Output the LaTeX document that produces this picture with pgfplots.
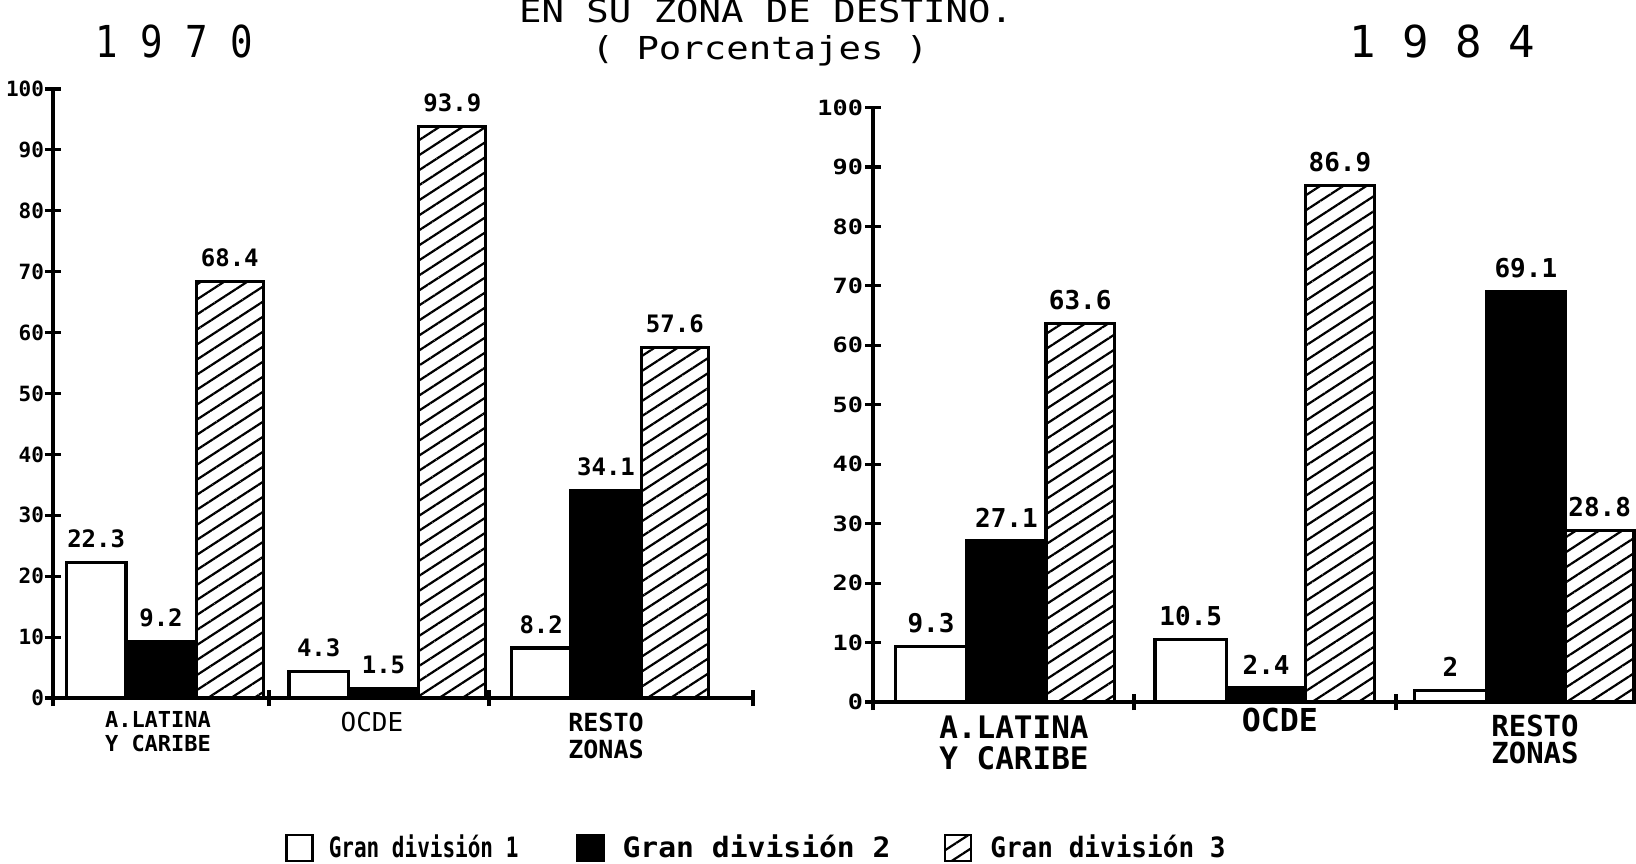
\documentclass[border=0pt]{standalone}
\usepackage{fontspec}
\usepackage{pgfplots}
\pgfplotsset{compat=1.18}
\usetikzlibrary{patterns.meta}
\setmainfont{DejaVu Sans Mono}
\newfontfamily\fN{DejaVu Sans Mono}
\newfontfamily\fT{DejaVu Sans Mono}[FakeStretch=1.18]
\newfontfamily\fW{DejaVu Sans Mono}[FakeStretch=1.2]
\newfontfamily\fC{DejaVu Sans Mono}[FakeStretch=0.85]
\newfontfamily\fLa{DejaVu Sans Mono}[FakeStretch=0.75]
\newfontfamily\fLb{DejaVu Sans Mono}[FakeStretch=1.06]
\newfontfamily\fLc{DejaVu Sans Mono}[FakeStretch=0.93]
\pgfplotsset{
  hatch/.style={pattern={Lines[angle=33,distance=6.3pt,line width=1.1pt]}, pattern color=black},
  base/.style={
    scale only axis,
    axis x line=bottom, axis y line=left,
    axis line style={-, line width=1.8pt},
    ymin=0, ymax=100, ytick={0,10,...,100},
    xticklabels={},
    tick align=center, major tick length=8pt,
    tick style={black, line width=1.6pt},
    clip=false,
    /pgf/number format/assume math mode=true,
    point meta=explicit symbolic,
    nodes near coords,
    every node near coord/.append style={anchor=south, inner sep=0pt},
  },
}
\begin{document}
\begin{tikzpicture}
\useasboundingbox (0,0) rectangle (818pt,431.5pt);

\node[anchor=base, inner sep=0pt, font=\fT\fontsize{15.8}{18}\selectfont] at (383pt,420pt) {EN SU ZONA DE DESTINO.};
\node[anchor=base, inner sep=0pt, font=\fT\fontsize{15.8}{18}\selectfont] at (380pt,401.75pt) {( Porcentajes )};
\node[anchor=base, inner sep=0pt, font=\fC\fontsize{22}{24}\selectfont] at (87pt,402.5pt) {1 9 7 0};
\node[anchor=base, inner sep=0pt, font=\fN\fontsize{22}{24}\selectfont] at (721pt,402.5pt) {1 9 8 4};

% ---------------- 1970 ----------------
\begin{axis}[base,
  at={(26.5pt,82.5pt)}, anchor=south west,
  width=350pt, height=304.5pt,
  xmin=-0.4854, xmax=2.6607,
  xtick={-0.4854,0.4854,1.4742,2.6607},
  yticklabel style={font=\fN\bfseries\fontsize{10.5}{12}\selectfont, xshift=3pt},
  every node near coord/.append style={font=\fN\bfseries\fontsize{12}{14}\selectfont, yshift=6.5pt},
  legend columns=3,
  legend cell align=left,
  legend image code/.code={\draw[#1, line width=1.4pt] (0pt,-6.5pt) rectangle (13pt,6.5pt);},
  legend style={draw=none, fill=none, at={(0.3314,-0.2463)}, anchor=west,
    inner sep=0pt, outer sep=0pt, column sep=0pt, row sep=0pt, nodes={inner sep=0pt}},
]
\addplot[ybar, bar width=0.2666, bar shift=-0.291, fill=white, draw=black, line width=1.6pt, forget plot,
  every node near coord/.append style={xshift=-32.4pt}]
  coordinates {(0,22.3) [22.3] (1,4.3) [4.3] (2,8.2) [8.2]};
\addplot[ybar, bar width=0.316, bar shift=0, fill=black, draw=black, line width=1.6pt, forget plot]
  coordinates {(0,9.2) [9.2] (1,1.5) [1.5] (2,34.1) [34.1]};
\addplot[ybar, bar width=0.301, bar shift=0.309, hatch, draw=black, line width=1.6pt, forget plot,
  every node near coord/.append style={xshift=34.4pt}]
  coordinates {(0,68.4) [68.4] (1,93.9) [93.9] (2,57.6) [57.6]};

\node[anchor=north, inner sep=0pt, align=center, font=\fN\bfseries\fontsize{11}{12}\selectfont]
  at (axis cs:-0.0135,0) [yshift=-6.5pt] {A.LATINA\\Y CARIBE};
\node[anchor=north, inner sep=0pt, align=center, font=\fN\fontsize{13}{13}\selectfont]
  at (axis cs:0.948,0) [yshift=-7pt] {OCDE};
\node[anchor=north, inner sep=0pt, align=center, font=\fN\bfseries\fontsize{12.5}{13.5}\selectfont]
  at (axis cs:2.0,0) [yshift=-7.5pt] {RESTO\\ZONAS};

\addlegendimage{fill=white, draw=black}
\addlegendimage{fill=black, draw=black}
\addlegendimage{pattern={Lines[angle=33,distance=6.3pt,line width=1.1pt]}, pattern color=black, draw=black}
\legend{{\makebox[131pt][l]{\hspace{7.5pt}\fLa\bfseries\fontsize{14}{16}\selectfont Gran división 1}},
        {\makebox[169.5pt][l]{\hspace{9pt}\fLb\bfseries\fontsize{14}{16}\selectfont Gran división 2}},
        {\hspace{9pt}\fLc\bfseries\fontsize{14}{16}\selectfont Gran división 3}}
\end{axis}

% ---------------- 1984 ----------------
\begin{axis}[base,
  at={(436.5pt,80.5pt)}, anchor=south west,
  width=381.5pt, height=297.25pt,
  xmin=-0.5136, xmax=2.424,
  xtick={-0.5136,0.4913,1.4996},
  yticklabel style={font=\fW\bfseries\fontsize{10.5}{12}\selectfont, xshift=2.5pt},
  every node near coord/.append style={font=\fN\bfseries\fontsize{13}{15}\selectfont, yshift=6pt},
]
\addplot[ybar, bar width=0.276, bar shift=-0.290, fill=white, draw=black, line width=1.6pt,
  every node near coord/.append style={xshift=-37.7pt}]
  coordinates {(0,9.3) [9.3] (1,10.5) [10.5] (2,2) [2]};
\addplot[ybar, bar width=0.304, bar shift=0, fill=black, draw=black, line width=1.6pt]
  coordinates {(0,27.1) [27.1] (1,2.4) [2.4] (2,69.1) [69.1]};
\addplot[ybar, bar width=0.2645, bar shift=0.2843, hatch, draw=black, line width=1.6pt,
  every node near coord/.append style={xshift=36.9pt}]
  coordinates {(0,63.6) [63.6] (1,86.9) [86.9] (2,28.8) [28.8]};

\node[anchor=north, inner sep=0pt, align=center, font=\fN\bfseries\fontsize{15.5}{15.5}\selectfont]
  at (axis cs:0.029,0) [yshift=-6.5pt] {A.LATINA\\Y CARIBE};
\node[anchor=north, inner sep=0pt, align=center, font=\fN\bfseries\fontsize{15.8}{15.8}\selectfont]
  at (axis cs:1.053,0) [yshift=-3pt] {OCDE};
\node[anchor=north, inner sep=0pt, align=center, font=\fN\bfseries\fontsize{14.5}{13.5}\selectfont]
  at (axis cs:2.035,0) [yshift=-6.5pt] {RESTO\\ZONAS};
\end{axis}
\end{tikzpicture}
\end{document}
